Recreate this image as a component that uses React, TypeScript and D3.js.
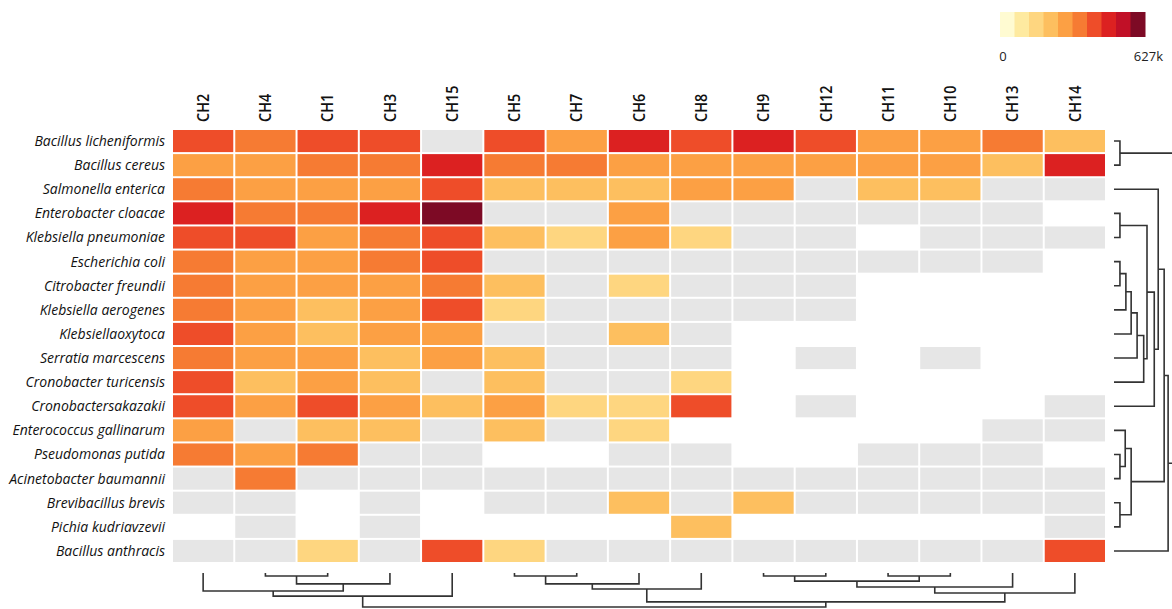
import React from "react";
import * as d3 from "d3";

// Channels (columns) in clustered order
const channels = ["CH2", "CH4", "CH1", "CH3", "CH15", "CH5", "CH7", "CH6", "CH8", "CH9", "CH12", "CH11", "CH10", "CH13", "CH14"];

// Species (rows) in clustered order
const species = [
  "Bacillus licheniformis",
  "Bacillus cereus",
  "Salmonella enterica",
  "Enterobacter cloacae",
  "Klebsiella pneumoniae",
  "Escherichia coli",
  "Citrobacter freundii",
  "Klebsiella aerogenes",
  "Klebsiellaoxytoca",
  "Serratia marcescens",
  "Cronobacter turicensis",
  "Cronobactersakazakii",
  "Enterococcus gallinarum",
  "Pseudomonas putida",
  "Acinetobacter baumannii",
  "Brevibacillus brevis",
  "Pichia kudriavzevii",
  "Bacillus anthracis",
];

// Signal per species × channel, in thousands. 0 = not detected (grey), null = not tested (blank).
const signal: (number | null)[][] = [
  [415, 350, 420, 410, 0, 405, 290, 475, 410, 480, 420, 285, 290, 355, 225],
  [280, 290, 340, 330, 465, 345, 350, 285, 280, 290, 300, 295, 290, 240, 470],
  [345, 285, 280, 275, 400, 230, 225, 235, 290, 285, 0, 225, 230, 0, 0],
  [470, 350, 345, 460, 610, 0, 0, 285, 0, 0, 0, 0, 0, 0, null],
  [420, 400, 285, 340, 410, 220, 165, 285, 160, 0, 0, null, 0, 0, 0],
  [345, 280, 285, 340, 405, 0, 0, 0, 0, 0, 0, 0, 0, 0, null],
  [350, 290, 280, 285, 345, 225, 0, 160, 0, 0, 0, null, null, null, null],
  [345, 285, 230, 280, 415, 165, 0, 0, 0, 0, 0, null, null, null, null],
  [400, 285, 225, 290, 295, 0, 0, 225, 0, null, null, null, null, null, null],
  [345, 285, 290, 240, 295, 230, 0, 0, 0, null, 0, null, 0, null, null],
  [410, 225, 285, 235, 0, 230, 0, 0, 165, null, null, null, null, null, null],
  [415, 285, 420, 290, 230, 285, 165, 165, 405, null, 0, null, null, null, 0],
  [285, 0, 230, 225, 0, 235, 0, 160, null, null, null, null, null, 0, 0],
  [350, 285, 345, 0, 0, null, null, 0, 0, null, null, 0, 0, 0, null],
  [0, 350, 0, 0, 0, 0, 0, 0, 0, 0, 0, 0, 0, 0, 0],
  [0, 0, null, 0, null, 0, 0, 225, 0, 230, 0, 0, 0, 0, 0],
  [null, 0, null, 0, null, null, null, null, 225, null, null, null, null, null, 0],
  [0, 0, 165, 0, 410, 160, 0, 0, 0, 0, 0, 0, 0, 0, 420],
];

// Colour scale: 0 – 627k in ten steps
const maxSignal = 627;
const palette = ["#fffbd2", "#feeaa0", "#fed680", "#fdbf5f", "#fca044", "#f67b33", "#ee4d29", "#dc2121", "#c11027", "#7d0a25"];
const legendTicks = ["0", "627k"];

// Hierarchical clustering (linkage format: [childA, childB, height]; new node id = leaves + index)
const rowLinkage: [number, number, number][] = [
  [0, 1, 0.9],
  [3, 4, 0.9],
  [5, 6, 0.9],
  [20, 7, 1.8],
  [21, 8, 2.6],
  [22, 9, 3.5],
  [23, 10, 4.5],
  [19, 24, 5.0],
  [25, 11, 6.1],
  [2, 26, 6.7],
  [13, 14, 0.9],
  [12, 28, 1.7],
  [15, 16, 0.9],
  [29, 30, 2.6],
  [27, 31, 7.6],
  [32, 17, 8.2],
  [18, 33, 10],
];

const colLinkage: [number, number, number][] = [
  [1, 2, 0.9],
  [15, 3, 3.2],
  [0, 16, 5.3],
  [17, 4, 6.8],
  [5, 6, 0.9],
  [19, 7, 3.2],
  [20, 8, 4.7],
  [9, 10, 0.9],
  [11, 12, 0.9],
  [22, 23, 2.4],
  [24, 13, 4.1],
  [25, 14, 5.9],
  [21, 26, 8.5],
  [18, 27, 10],
];

const W = 1172;
const H = 609;

function dendroPaths(
  linkage: [number, number, number][],
  leafPos: number[],
  hScale: (h: number) => number,
  horizontal: boolean
): string[] {
  const pos = [...leafPos];
  const hgt = leafPos.map(() => 0);
  const paths: string[] = [];
  linkage.forEach(([a, b, h]) => {
    const p = d3.path();
    if (horizontal) {
      p.moveTo(hScale(hgt[a]), pos[a]);
      p.lineTo(hScale(h), pos[a]);
      p.lineTo(hScale(h), pos[b]);
      p.lineTo(hScale(hgt[b]), pos[b]);
    } else {
      p.moveTo(pos[a], hScale(hgt[a]));
      p.lineTo(pos[a], hScale(h));
      p.lineTo(pos[b], hScale(h));
      p.lineTo(pos[b], hScale(hgt[b]));
    }
    paths.push(p.toString());
    pos.push((pos[a] + pos[b]) / 2);
    hgt.push(h);
  });
  return paths;
}

export default function App() {
  const x = d3.scaleBand<string>().domain(channels).range([172, 1106]);
  const y = d3.scaleBand<string>().domain(species).range([129, 563]);
  const color = d3.scaleQuantize<string>().domain([0, maxSignal]).range(palette);

  const rowH = d3.scaleLinear().domain([0, 10]).range([1114, 1180]);
  const colH = d3.scaleLinear().domain([0, 10]).range([573, 607]);

  const rowPaths = dendroPaths(
    rowLinkage,
    species.map((s) => (y(s) as number) + y.bandwidth() / 2),
    rowH,
    true
  );
  const colPaths = dendroPaths(
    colLinkage,
    channels.map((c) => (x(c) as number) + x.bandwidth() / 2),
    colH,
    false
  );

  const legendX = d3.scaleBand<number>().domain(d3.range(palette.length)).range([1000, 1145]);

  const font = "'Open Sans', sans-serif";

  return (
    <div style={{ position: "absolute", left: 0, top: 0 }}>
      <svg width={W} height={H} style={{ display: "block", background: "#fff" }}>
        {/* legend */}
        {palette.map((c, i) => (
          <rect key={i} x={legendX(i)} y={12} width={legendX.bandwidth() + 0.5} height={25} fill={c} />
        ))}
        <text x={1003} y={61} fontFamily={font} fontSize={13} textAnchor="middle" fill="#222">
          {legendTicks[0]}
        </text>
        <text x={1163} y={61} fontFamily={font} fontSize={13} textAnchor="end" fill="#222">
          {legendTicks[1]}
        </text>

        {/* column labels */}
        {channels.map((c) => (
          <text
            key={c}
            transform={`translate(${(x(c) as number) + x.bandwidth() / 2},122) rotate(-90) scale(0.9,1)`}
            dy="0.36em"
            fontFamily={font}
            fontSize={16}
            fontWeight={600}
            fill="#111"
          >
            {c}
          </text>
        ))}

        {/* row labels */}
        {species.map((s) => (
          <text
            key={s}
            x={165}
            y={(y(s) as number) + y.bandwidth() / 2}
            dy="0.35em"
            textAnchor="end"
            fontFamily={font}
            fontStyle="italic"
            fontSize={14}
            fill="#111"
          >
            {s}
          </text>
        ))}

        {/* heatmap cells */}
        {signal.map((row, ri) =>
          row.map((v, ci) =>
            v === null ? null : (
              <rect
                key={`${ri}-${ci}`}
                x={(x(channels[ci]) as number) + 1}
                y={(y(species[ri]) as number) + 1}
                width={x.bandwidth() - 2}
                height={y.bandwidth() - 2}
                fill={v === 0 ? "#e6e6e6" : color(v)}
              />
            )
          )
        )}

        {/* dendrograms */}
        <g fill="none" stroke="#333" strokeWidth={1.6}>
          {rowPaths.map((d, i) => (
            <path key={`r${i}`} d={d} />
          ))}
          {colPaths.map((d, i) => (
            <path key={`c${i}`} d={d} />
          ))}
        </g>
      </svg>
    </div>
  );
}
